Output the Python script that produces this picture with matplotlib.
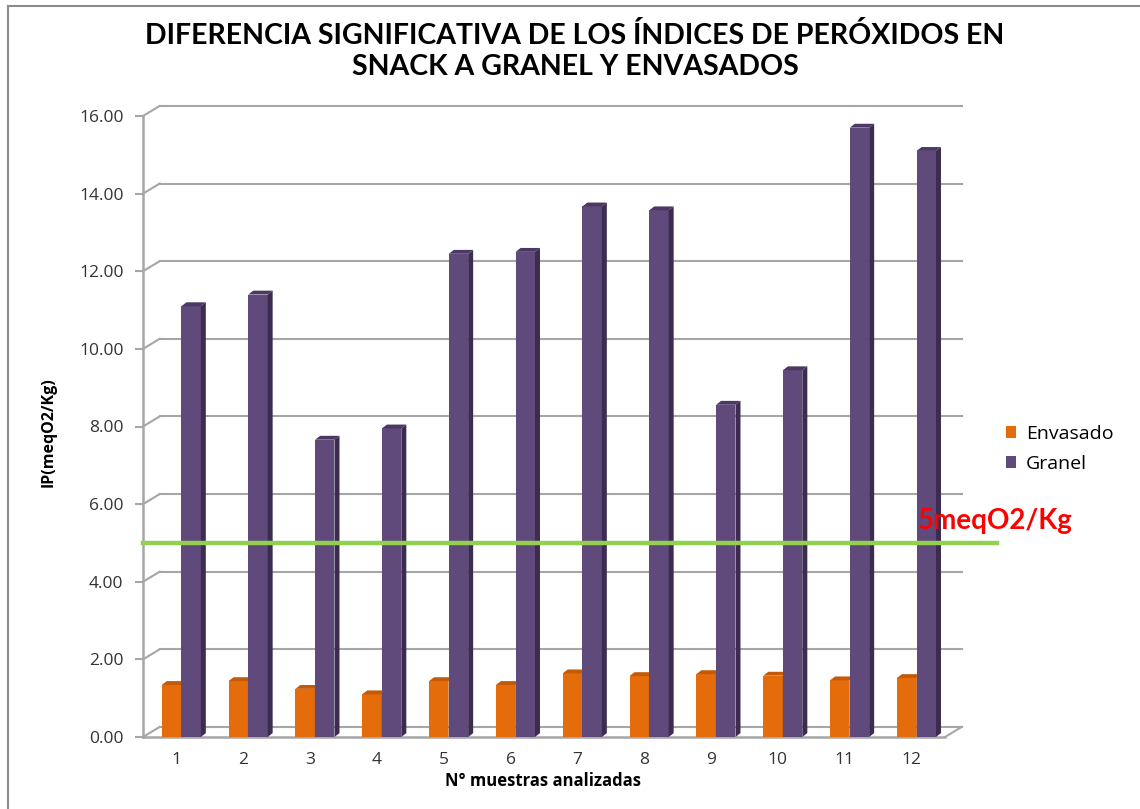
import matplotlib
matplotlib.use("Agg")
import matplotlib.pyplot as plt
from matplotlib.patches import Polygon
from matplotlib.lines import Line2D

# ---- data ----
categories = [1, 2, 3, 4, 5, 6, 7, 8, 9, 10, 11, 12]
envasado = [1.34, 1.44, 1.24, 1.10, 1.44, 1.34, 1.64, 1.57, 1.62, 1.58, 1.46, 1.52]
granel = [11.1, 11.4, 7.66, 7.95, 12.45, 12.5, 13.67, 13.57, 8.56, 9.45, 15.7, 15.1]
series_names = ["Envasado", "Granel"]
yticks = [0, 2, 4, 6, 8, 10, 12, 14, 16]
limit_value = 5.0
limit_label = "5meqO2/Kg"
title = "DIFERENCIA SIGNIFICATIVA DE LOS ÍNDICES DE PERÓXIDOS EN\nSNACK A GRANEL Y ENVASADOS"
ylabel = "IP(meqO2/Kg)"
xlabel = "N° muestras analizadas"

TFONT = ["Lato", "DejaVu Sans"]
BFONT = ["Open Sans", "DejaVu Sans"]
plt.rcParams["font.family"] = BFONT

W, H = 1140, 809
fig = plt.figure(figsize=(W / 100, H / 100), dpi=100)
ax = fig.add_axes([143 / W, (H - 737) / H, 802 / W, 621 / H])
ax.set_xlim(0.5, 12.5)
ax.set_ylim(0, 16)
for s in ax.spines.values():
    s.set_visible(False)

grid_c = "#a6a6a6"
dx, dy = 0.25, 0.26  # 3D back-wall offset in data units

# back wall gridlines + diagonal connectors
for v in yticks:
    ax.plot([0.5, 0.5 + dx], [v, v + dy], color=grid_c, lw=1.5, clip_on=False, zorder=1)
    ax.plot([0.5 + dx, 12.5 + dx], [v + dy, v + dy], color=grid_c, lw=1.5, clip_on=False, zorder=1)
# front axis line and floor front edge
ax.plot([0.5, 0.5], [0, 16], color=grid_c, lw=1.8, clip_on=False, zorder=1)
ax.plot([0.5, 12.5], [0, 0], color=grid_c, lw=1.8, clip_on=False, zorder=1)
ax.plot([12.5, 12.5 + dx], [0, dy], color=grid_c, lw=1.5, clip_on=False, zorder=1)

ax.set_yticks(yticks)
ax.set_yticklabels([f"{v:.2f}" for v in yticks], fontsize=12.5, color="#333333")
ax.tick_params(axis="y", length=6, width=1.5, color=grid_c, pad=8)
ax.set_xticks(categories)
ax.set_xticklabels([str(c) for c in categories], fontsize=12.5, color="#333333")
ax.tick_params(axis="x", length=0, pad=11)

bw = 0.29
side_w, top_h = 0.075, 0.1
colors = [("#e46c0a", "#b05308", "#c25a08"), ("#604a7b", "#3c2c50", "#4b3964")]
offsets = [-0.22 + bw / 2, 0.075 + bw / 2]
for vals, off, (fc, sc, tc), name in zip([envasado, granel], offsets, colors, series_names):
    xs = [c + off for c in categories]
    bars = ax.bar(xs, vals, width=bw, color=fc, edgecolor="none", zorder=3, label=name)
    for b in bars:
        x0 = b.get_x(); x1 = x0 + b.get_width(); h = b.get_height()
        ax.add_patch(Polygon([[x1, 0], [x1 + side_w, top_h], [x1 + side_w, h + top_h], [x1, h]],
                             closed=True, facecolor=sc, edgecolor="none", zorder=3))
        ax.add_patch(Polygon([[x0, h], [x0 + side_w, h + top_h], [x1 + side_w, h + top_h], [x1, h]],
                             closed=True, facecolor=tc, edgecolor="none", zorder=3))

# limit line
ax.plot([0.5, 13.28], [limit_value, limit_value], color="#92d050", lw=3.2, clip_on=False, zorder=4)
ax.text(995 / W, (H - 521) / H, limit_label, transform=fig.transFigure, color="#ff0000",
        fontsize=20, fontweight="bold", ha="center", va="center", zorder=5, family=TFONT)

# legend
ax.legend(loc="center left", bbox_to_anchor=(998 / W, (H - 449) / H), bbox_transform=fig.transFigure,
          frameon=False, fontsize=14, handlelength=0.55, handleheight=0.55, handletextpad=0.5,
          labelspacing=0.62, borderaxespad=0)

ax.set_ylabel(ylabel, fontsize=11.5, fontweight="bold")
ax.yaxis.set_label_coords(57 / W, (H - 432) / H, transform=fig.transFigure)
fig.text(543 / W, (H - 781) / H, xlabel, fontsize=12, fontweight="bold", ha="center", va="center")
fig.text(575 / W, (H - 51) / H, title, fontsize=20.5, fontweight="bold", ha="center", va="center",
         linespacing=1.28, family=TFONT)

# chart area border (top and left visible)
fig.add_artist(Line2D([8 / W, 8 / W], [0, (H - 6) / H], color="#8c8c8c", lw=1.5, transform=fig.transFigure))
fig.add_artist(Line2D([8 / W, 1], [(H - 6) / H, (H - 6) / H], color="#8c8c8c", lw=1.5, transform=fig.transFigure))

fig.savefig("out.png", dpi=100, facecolor="white")
